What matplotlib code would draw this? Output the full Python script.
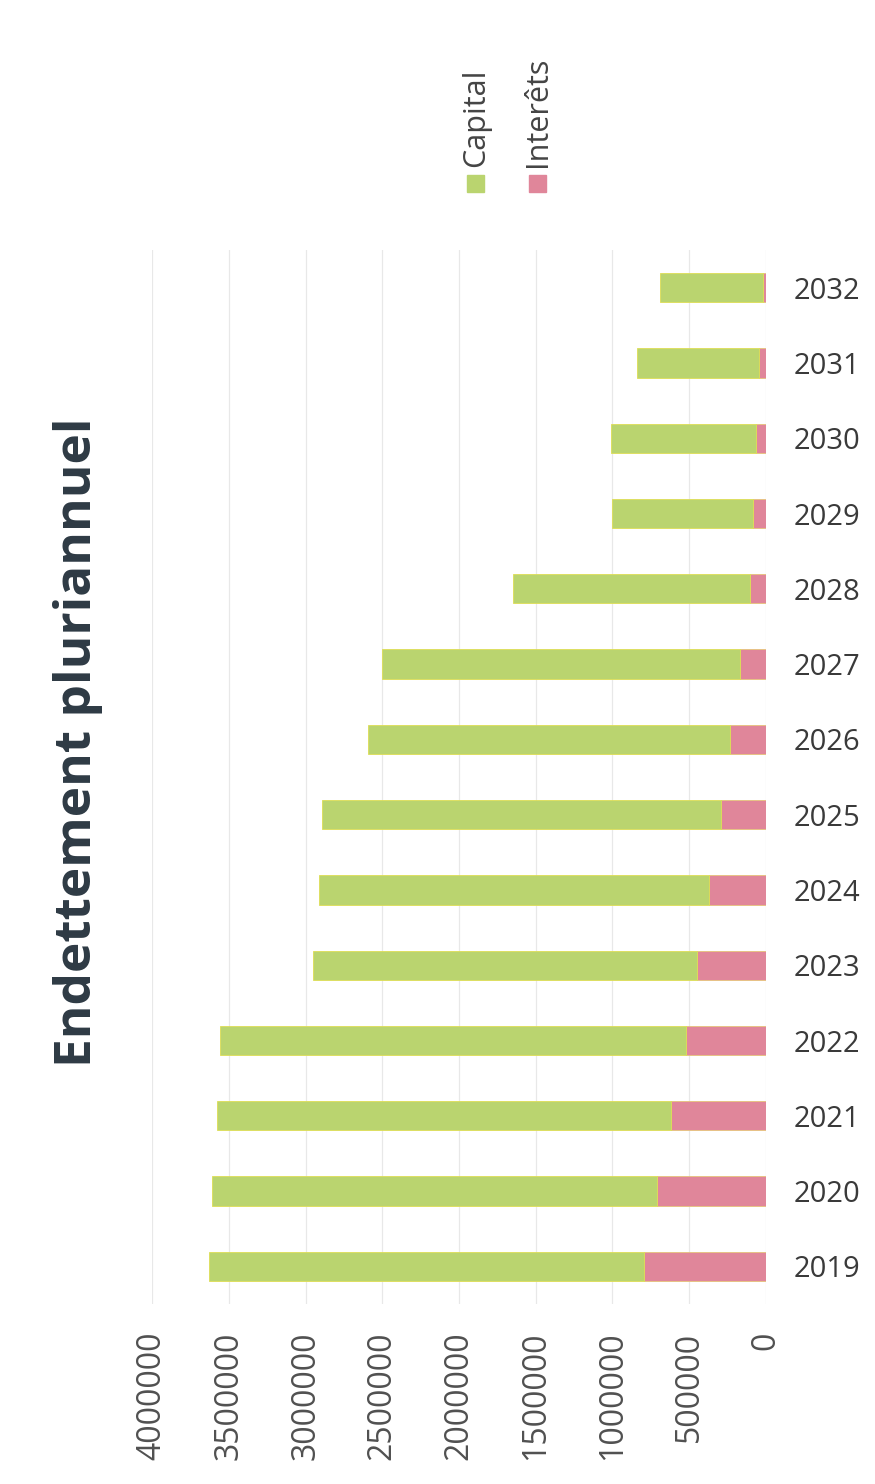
import matplotlib
matplotlib.use("Agg")
import matplotlib.pyplot as plt
import matplotlib.patches as patches

plt.rcParams['font.family'] = ['Open Sans', 'DejaVu Sans']

years = ["2019", "2020", "2021", "2022", "2023", "2024", "2025",
         "2026", "2027", "2028", "2029", "2030", "2031", "2032"]
capital = [2840000, 2900000, 2955000, 3035000, 2500000, 2545000, 2605000,
           2355000, 2330000, 1545000, 920000, 945000, 800000, 670000]
interets = [790000, 710000, 620000, 520000, 450000, 370000, 290000,
            235000, 170000, 105000, 85000, 65000, 40000, 20000]
ticks = [0, 500000, 1000000, 1500000, 2000000, 2500000, 3000000, 3500000, 4000000]

green = '#bad46f'
pink = '#e0869a'
txt = '#3a3a3a'

fig = plt.figure(figsize=(8.75, 14.84), dpi=100)
ax = fig.add_axes([0.174, 0.1213, 0.701, 0.7102])

pos = list(range(len(years)))
ax.barh(pos, interets, height=0.39, color=pink, edgecolor='#e6c27a', linewidth=0.6, zorder=3)
ax.barh(pos, capital, left=interets, height=0.39, color=green, edgecolor='#dede55',
        linewidth=0.6, zorder=3)

ax.set_xlim(4000000, 0)
ax.set_ylim(-0.5, len(years) - 0.5)
ax.set_xticks(ticks)
ax.set_xticklabels([str(t) for t in ticks], rotation=90, fontsize=23, color='#505050')
ax.tick_params(axis='x', length=0, pad=20)
ax.xaxis.grid(True, color='#e8e8e8', linewidth=0.9, zorder=0)
ax.set_axisbelow(True)

ax.yaxis.tick_right()
ax.set_yticks(pos)
ax.set_yticklabels(years, fontsize=21, color=txt)
ax.tick_params(axis='y', length=0, pad=20)

for s in ax.spines.values():
    s.set_visible(False)

# titre vertical
fig.text(0.089, 0.5, "Endettement pluriannuel", rotation=90, ha='center', va='center',
         fontsize=37, fontweight='bold', color='#2e3a44')

# legende tournee
for lx, label, col in [(0.534, "Capital", green), (0.6046, "Interêts", pink)]:
    fig.patches.append(patches.Rectangle((lx, 0.8706), 0.0194, 0.01146, color=col,
                                         transform=fig.transFigure, figure=fig))
    fig.text(lx + 0.0105, 0.8875, label, rotation=90, ha='center', va='bottom',
             fontsize=22, color='#444444')

fig.savefig('out.png', dpi=100)
